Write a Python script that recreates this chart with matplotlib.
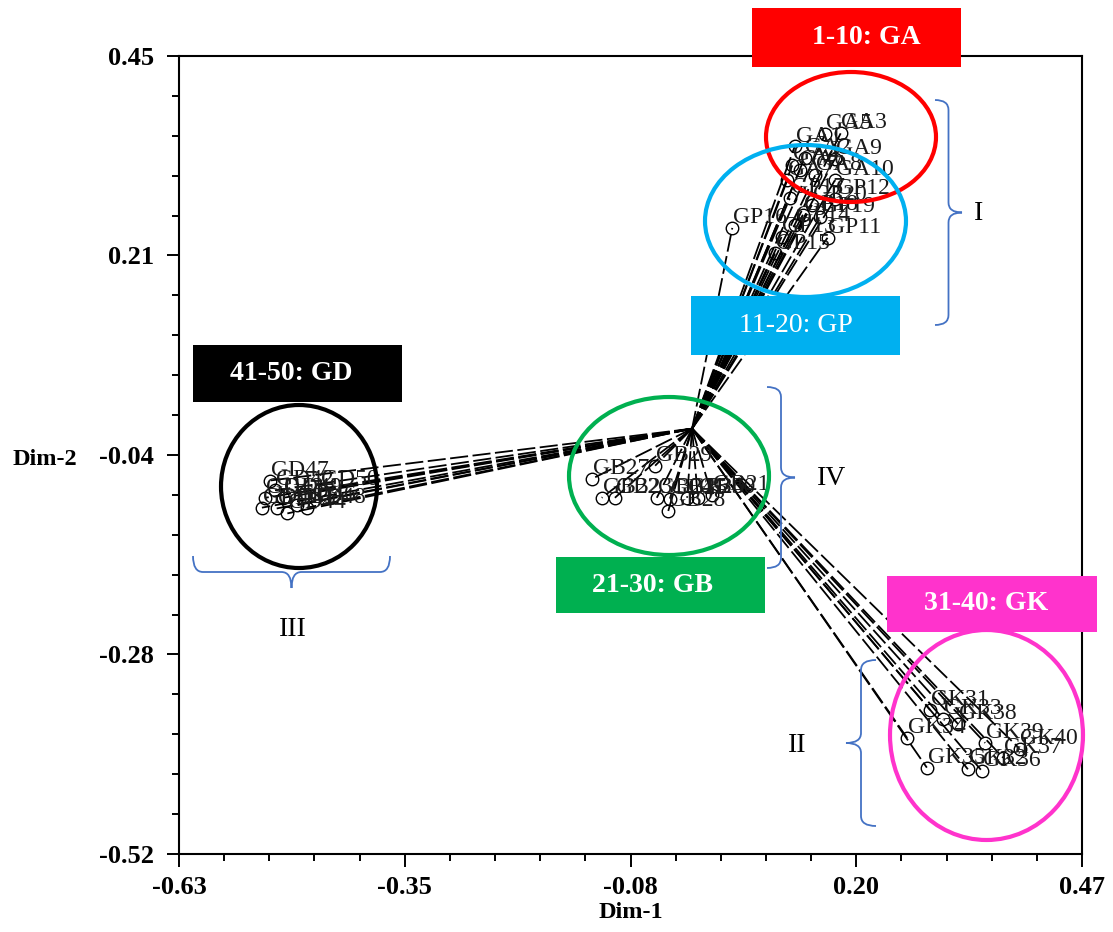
"""Tree of 50 genotypes on the first two dimensions, with group call-outs."""

import matplotlib
matplotlib.use("Agg")
import matplotlib.pyplot as plt
import numpy as np
from matplotlib.patches import Ellipse, PathPatch, Rectangle
from matplotlib.path import Path

# ---- data ----
labels = (
    [f"GA{i}" for i in range(1, 11)]
    + [f"GP{i}" for i in range(11, 21)]
    + [f"GB{i}" for i in range(21, 31)]
    + [f"GK{i}" for i in range(31, 41)]
    + [f"GD{i}" for i in range(41, 51)]
)
dim1 = [
    0.120, 0.132, 0.176, 0.117, 0.157, 0.126, 0.111, 0.145, 0.169, 0.169,       # GA
    0.160, 0.169, 0.104, 0.120, 0.096, 0.044, 0.114, 0.130, 0.151, 0.141,       # GP
    0.019, -0.115, -0.099, -0.048, -0.032, -0.011, -0.127, -0.034, -0.050, 0.002,  # GB
    0.285, 0.331, 0.301, 0.257, 0.281, 0.348, 0.374, 0.319, 0.352, 0.394,       # GK
    -0.529, -0.513, -0.525, -0.498, -0.511, -0.486, -0.519, -0.474, -0.503, -0.458,  # GD
]
dim2 = [
    0.340, 0.326, 0.356, 0.317, 0.355, 0.311, 0.299, 0.305, 0.325, 0.299,
    0.229, 0.276, 0.230, 0.244, 0.210, 0.241, 0.277, 0.257, 0.254, 0.269,
    -0.084, -0.087, -0.087, -0.087, -0.088, -0.087, -0.064, -0.103, -0.048, -0.087,
    -0.345, -0.417, -0.356, -0.379, -0.415, -0.419, -0.403, -0.362, -0.385, -0.392,
    -0.099, -0.078, -0.087, -0.106, -0.100, -0.096, -0.066, -0.099, -0.087, -0.078,
]
root = (-0.005, -0.003)

xticks = np.linspace(-0.63, 0.47, 21)
yticks = np.linspace(0.45, -0.52, 21)
xtick_labels = ["-0.63", "-0.35", "-0.08", "0.20", "0.47"]
ytick_labels = ["0.45", "0.21", "-0.04", "-0.28", "-0.52"]

# group call-outs: box (px), fill colour, text, bold, text centre (px), ellipse (px)
groups = [
    ((752, 8, 961, 67), "#FF0000", "1-10: GA", True, (866, 38), (766, 72, 936, 202)),
    ((691, 296, 900, 355), "#00B0F0", "11-20: GP", False, (796, 325), (705, 145, 906, 297)),
    ((193, 345, 402, 402), "#000000", "41-50: GD", True, (291, 374), (221, 405, 377, 568)),
    ((556, 557, 765, 613), "#00B050", "21-30: GB", True, (653, 585), (569, 397, 769, 555)),
    ((887, 576, 1097, 632), "#FF33CC", "31-40: GK", True, (986, 604), (890, 630, 1083, 840)),
]
# braces: along-start, along-end, base, signed depth, vertical?, label, label pos (px)
braces = [
    (100, 325, 935, 27, True, "I", (979, 213)),
    (387, 568, 767, 28, True, "IV", (832, 478)),
    (660, 826, 876, -30, True, "II", (797, 745)),
    (193, 390, 556, 32, False, "III", (293, 630)),
]

W, H = 1113, 932
SERIF = ["Liberation Serif", "DejaVu Serif"]
plt.rcParams["font.family"] = SERIF

fig = plt.figure(figsize=(W / 100, H / 100), dpi=100)
ax = fig.add_axes([179 / W, 1 - 854 / H, (1082 - 179) / W, (854 - 56) / H])

x = np.asarray(dim1)
y = np.asarray(dim2)
for xi, yi in zip(x, y):
    ax.plot([root[0], xi], [root[1], yi], color="black", lw=1.3,
            dashes=(10, 2.5), zorder=1)
ax.plot(x, y, "o", ms=9, mfc="none", mec="black", mew=1.0, zorder=2)
for xi, yi, lab in zip(x, y, labels):
    ax.text(xi + 0.001, yi + 0.006, lab, fontsize=17, color="#1a1a1a",
            ha="left", va="baseline", zorder=3)

ax.set_xlim(-0.63, 0.47)
ax.set_ylim(-0.52, 0.45)
ax.set_xticks(xticks[::5], xtick_labels)
ax.set_xticks(xticks, minor=True)
ax.set_yticks(yticks[::5], ytick_labels)
ax.set_yticks(yticks, minor=True)
ax.tick_params(which="major", length=9, width=1.4, labelsize=19, pad=7)
ax.tick_params(axis="y", which="major", pad=9)
ax.tick_params(which="minor", length=5, width=1.4)
for t in ax.get_xticklabels() + ax.get_yticklabels():
    t.set_fontweight("bold")
for s in ax.spines.values():
    s.set_linewidth(1.5)

ax.set_xlabel("Dim-1", fontsize=17.5, fontweight="bold", labelpad=2)
ax.set_ylabel("Dim-2", fontsize=17.5, fontweight="bold", rotation=0,
              ha="right", va="center")
ax.yaxis.set_label_coords((77 - 179) / (1082 - 179), 0.4948)


def fxy(px, py):
    return px / W, 1 - py / H


for (x0, y0, x1, y1), col, txt, bold, (tx, ty), (ex0, ey0, ex1, ey1) in groups:
    fig.add_artist(Ellipse(fxy((ex0 + ex1) / 2, (ey0 + ey1) / 2),
                           (ex1 - ex0) / W, (ey1 - ey0) / H, fill=False,
                           edgecolor=col, lw=3.0, transform=fig.transFigure,
                           zorder=4))
    fig.add_artist(Rectangle(fxy(x0, y1), (x1 - x0) / W, (y1 - y0) / H,
                             facecolor=col, edgecolor="none",
                             transform=fig.transFigure, zorder=5))
    fig.text(*fxy(tx, ty), txt, color="white", fontsize=20,
             fontweight="bold" if bold else "normal",
             ha="center", va="center", zorder=6)


def brace_patch(a, b, base, depth, vertical, r=10):
    h = depth / 2
    m = (a + b) / 2
    s = np.sign(b - a)
    uv = [(a, base), (a, base + h), (a + s * r, base + h),
          (m - s * r, base + h),
          (m, base + h), (m, base + 2 * h),
          (m, base + h), (m + s * r, base + h),
          (b - s * r, base + h),
          (b, base + h), (b, base)]
    codes = [Path.MOVETO, Path.CURVE3, Path.CURVE3, Path.LINETO,
             Path.CURVE3, Path.CURVE3, Path.CURVE3, Path.CURVE3,
             Path.LINETO, Path.CURVE3, Path.CURVE3]
    pts = [fxy(v, u) if vertical else fxy(u, v) for u, v in uv]
    return PathPatch(Path(pts, codes), fill=False, edgecolor="#4472C4",
                     lw=1.3, transform=fig.transFigure, zorder=4)


for a, b, base, depth, vertical, txt, (tx, ty) in braces:
    fig.add_artist(brace_patch(a, b, base, depth, vertical))
    fig.text(*fxy(tx, ty), txt, fontsize=20, color="black",
             ha="center", va="center", zorder=6)

fig.savefig("out.png", dpi=100)
